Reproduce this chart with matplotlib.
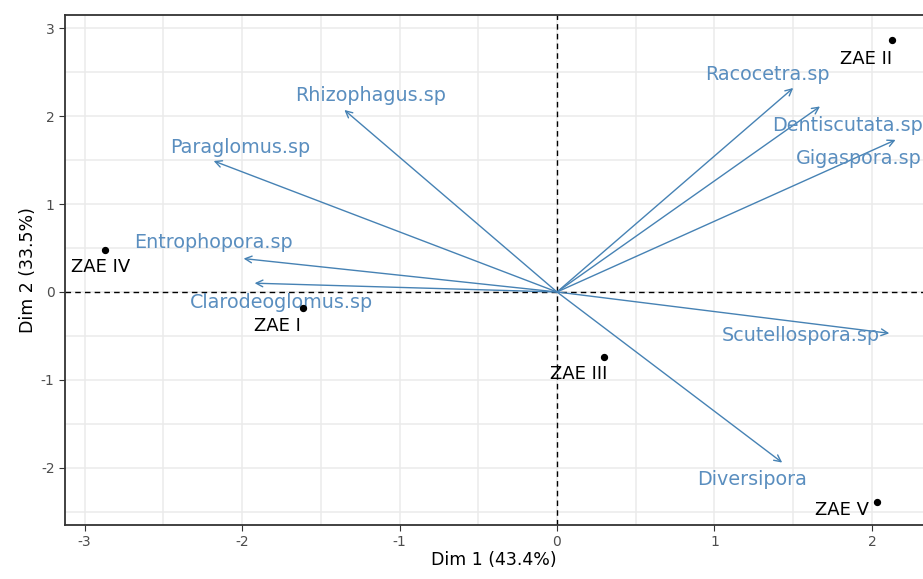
import numpy as np
import matplotlib.pyplot as plt

plt.rcParams["axes.unicode_minus"] = False

# individuals (ZAE) coordinates on Dim1 / Dim2
ind_names = ["ZAE I", "ZAE II", "ZAE III", "ZAE IV", "ZAE V"]
ind_x = [-1.61, 2.13, 0.30, -2.87, 2.03]
ind_y = [-0.18, 2.87, -0.74, 0.48, -2.39]

# variables (species) arrow ends
var_names = ["Rhizophagus.sp", "Paraglomus.sp", "Entrophopora.sp", "Clarodeoglomus.sp",
             "Racocetra.sp", "Dentiscutata.sp", "Gigaspora.sp", "Scutellospora.sp",
             "Diversipora"]
var_x = [-1.35, -2.18, -1.99, -1.92, 1.50, 1.67, 2.15, 2.11, 1.43]
var_y = [2.07, 1.49, 0.38, 0.10, 2.32, 2.11, 1.73, -0.47, -1.94]

# label offsets (pixels)
ind_off = [(-26, -18), (-26, -19), (-26, -17), (-4, -17), (-35, -8)]
var_off = [(26, 14), (27, 13), (-30, 16), (27, -19), (-26, 13),
           (27, -19), (-37, -19), (-89, -2), (-30, -17)]

blue = "#4682B4"
txtblue = "#5A8EBF"

fig = plt.figure(figsize=(9.23, 5.79), dpi=100)
ax = fig.add_axes([65/923, 54/579, 858/923, 510/579])

ax.set_xticks([-3, -2, -1, 0, 1, 2])
ax.set_yticks([-2, -1, 0, 1, 2, 3])
ax.set_xticks(np.arange(-3, 2.6, 0.5), minor=True)
ax.set_yticks(np.arange(-2.5, 3.1, 0.5), minor=True)
ax.set_xlim(-3.124, 2.324)
ax.set_ylim(-2.65, 3.15)
ax.grid(True, which="both", color="#EBEBEB", linewidth=1.1)
ax.set_axisbelow(True)
ax.tick_params(which="minor", length=0)
ax.tick_params(which="major", length=4, color="#333333", labelcolor="#4D4D4D",
               labelsize=10)

for s in ["top", "left", "bottom"]:
    ax.spines[s].set_color("#333333")
    ax.spines[s].set_linewidth(1.3)
ax.spines["right"].set_visible(False)

ax.axhline(0, color="black", linestyle=(0, (4, 3)), linewidth=1)
ax.axvline(0, color="black", linestyle=(0, (4, 3)), linewidth=1)

for name, x, y, off in zip(var_names, var_x, var_y, var_off):
    ax.annotate("", xy=(x, y), xytext=(0, 0),
                arrowprops=dict(arrowstyle="->", color=blue, lw=1,
                                shrinkA=0, shrinkB=0, mutation_scale=12))
    ax.annotate(name, xy=(x, y), xytext=off, textcoords="offset pixels",
                ha="center", va="center", color=txtblue, fontsize=13.8)

ax.scatter(ind_x, ind_y, s=18, color="black", zorder=3)
for name, x, y, off in zip(ind_names, ind_x, ind_y, ind_off):
    ax.annotate(name, xy=(x, y), xytext=off, textcoords="offset pixels",
                ha="center", va="center", color="black", fontsize=13)

ax.set_xlabel("Dim 1 (43.4%)", fontsize=12.5, labelpad=1)
ax.set_ylabel("Dim 2 (33.5%)", fontsize=12.5, labelpad=3)

fig.savefig("out.png", dpi=100)
